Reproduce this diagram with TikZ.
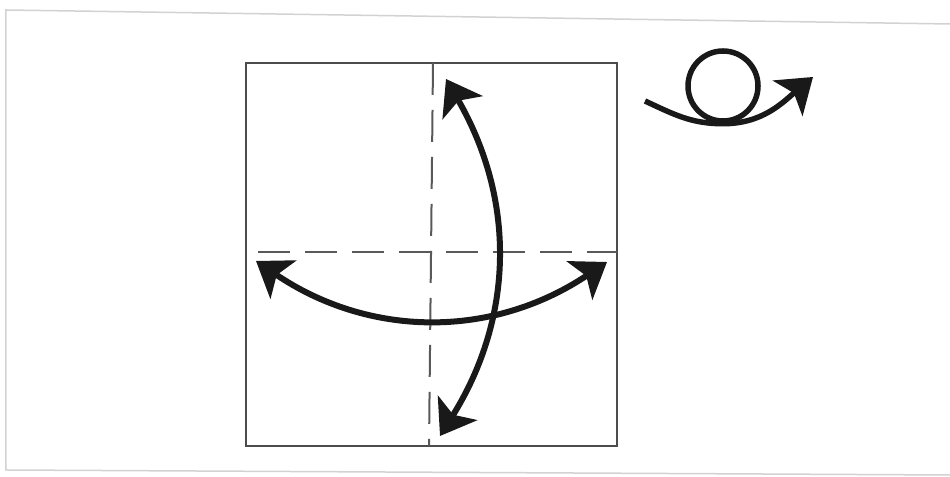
\documentclass[tikz,border=0pt]{standalone}
\usetikzlibrary{arrows.meta}

\begin{document}
\begin{tikzpicture}[>={Stealth[length=0.66cm,width=0.92cm,inset=0.16cm]},
    fold/.style={line width=0.12cm, draw=black!90},
    crease/.style={line width=0.04cm, draw=black!65, dash pattern=on 0.64cm off 0.3cm}]
  \useasboundingbox (0,0) rectangle (19,9.54);

  % faint page frame
  \draw[gray!35, line width=0.03cm] (19,9.06) -- (0.12,9.34) -- (0.12,0.14) -- (19,0.04);

  % square paper
  \coordinate (TL) at (4.92,8.28);
  \coordinate (BR) at (12.34,0.62);
  \draw[line width=0.04cm, draw=black!70] (TL) rectangle (BR);

  % creases
  \coordinate (VT) at (8.66,8.28);
  \coordinate (VB) at (8.58,0.62);
  \coordinate (HL) at (5.16,4.50);
  \coordinate (HR) at (12.34,4.50);
  \draw[crease] (VT) -- (VB);
  \draw[crease] (HL) -- (HR);

  % fold and unfold arrows
  \coordinate (UP) at (8.92,7.96);
  \coordinate (DN) at (8.80,0.82);
  \coordinate (LF) at (5.12,4.32);
  \coordinate (RT) at (12.14,4.30);
  \draw[fold, <->] (UP) to[bend left=31] (DN);
  \draw[fold, <->] (LF) to[bend right=34] (RT);

  % turn over symbol
  \node[circle, draw=black!90, line width=0.11cm, minimum size=1.4cm, inner sep=0pt] (loop) at (14.46,7.82) {};
  \coordinate (tail) at (12.90,7.52);
  \coordinate (head) at (16.26,8.00);
  \draw[line width=0.11cm, draw=black!90, ->] (tail) to[out=-25,in=180] (loop.south) to[out=0,in=220] (head);
\end{tikzpicture}
\end{document}
